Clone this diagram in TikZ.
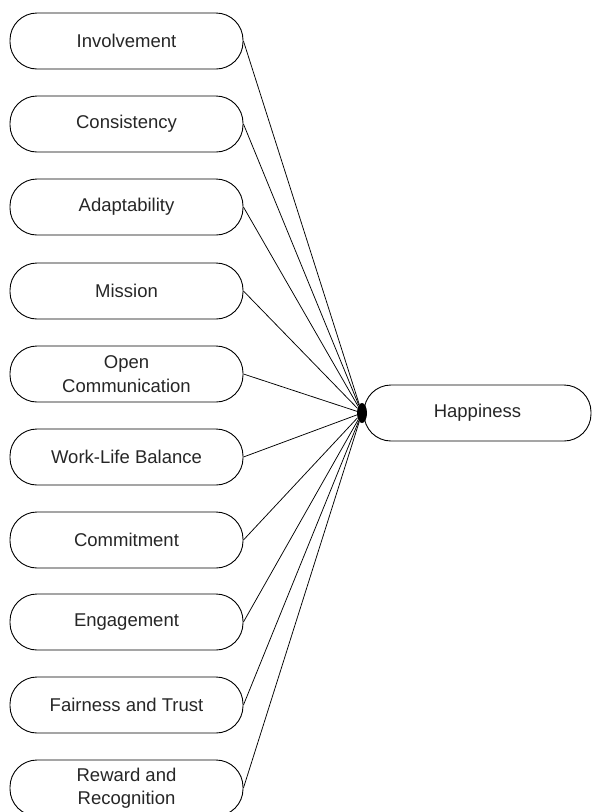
\documentclass[tikz,border=0pt]{standalone}
\usepackage{fontspec}
\setmainfont{Liberation Sans}
\usetikzlibrary{shapes.geometric}
\begin{document}
\begin{tikzpicture}[x=1pt,y=1pt,
  factor/.style={draw=black, line width=0.9pt, rounded corners=27pt,
    minimum width=233pt, minimum height=56pt, inner sep=0pt, align=center,
    text=black!85, font=\fontsize{18.5}{23.5}\selectfont},
  outcome/.style={factor, minimum width=227pt},
  hub/.style={ellipse, fill=black, minimum width=10pt, minimum height=20pt, inner sep=0pt},
  link/.style={draw=black, line width=0.75pt}]
\useasboundingbox (0,0) rectangle (592,-812);
% factor column
\node[factor] (f1)  at (126.5,-41)  {Involvement};
\node[factor] (f2)  at (126.5,-124) {Consistency};
\node[factor] (f3)  at (126.5,-207) {Adaptability};
\node[factor] (f4)  at (126.5,-291) {Mission};
\node[factor] (f5)  at (126.5,-374) {Open\\Communication};
\node[factor] (f6)  at (126.5,-457) {Work-Life Balance};
\node[factor] (f7)  at (126.5,-540) {Commitment};
\node[factor] (f8)  at (126.5,-622) {Engagement};
\node[factor] (f9)  at (126.5,-705) {Fairness and Trust};
\node[factor] (f10) at (126.5,-788) {Reward and\\Recognition};
% outcome and junction
\node[outcome] (happy) at (477.5,-413) {Happiness};
\node[hub] (dot) at (362,-413) {};
\foreach \i in {1,...,10} \draw[link] (f\i.east) -- (dot);
\end{tikzpicture}
\end{document}
